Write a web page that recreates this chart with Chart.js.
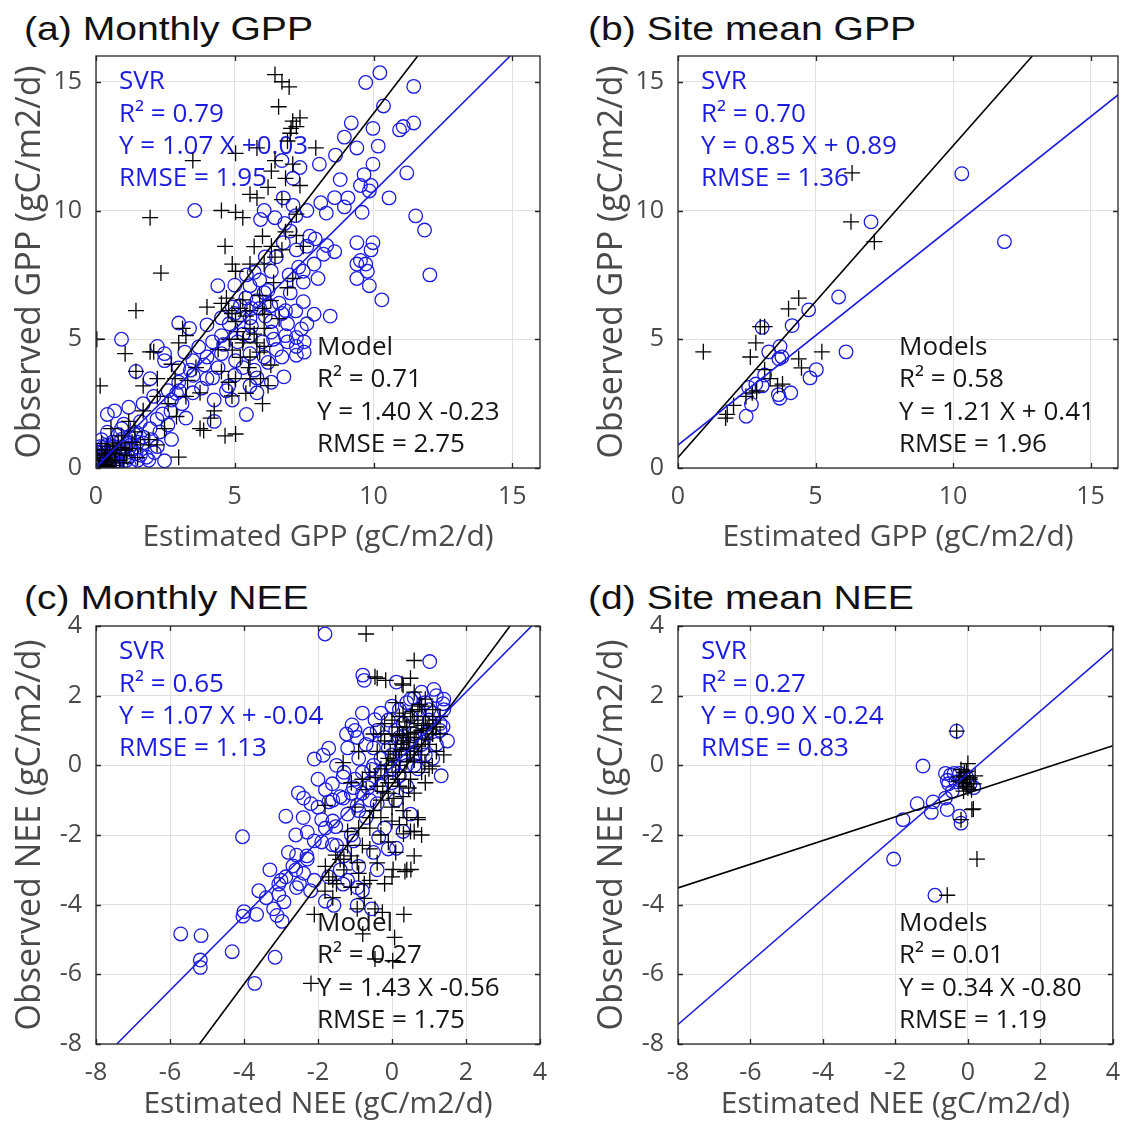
<!DOCTYPE html>
<html><head><meta charset="utf-8">
<script src="https://cdn.jsdelivr.net/npm/chart.js@4/dist/chart.umd.min.js"></script>
<style>
body{margin:0;width:1134px;height:1122px;background:#fff;position:relative;overflow:hidden}
canvas{position:absolute}
.ttl{position:absolute;font-family:"Liberation Sans",Arial,sans-serif;font-size:34px;line-height:34px;color:#111;transform:scaleX(1.15);transform-origin:0 0;white-space:pre}
</style></head><body>
<div class="ttl" style="left:24px;top:11px">(a) Monthly GPP</div>
<div class="ttl" style="left:588px;top:11px">(b) Site mean GPP</div>
<div class="ttl" style="left:24px;top:580px">(c) Monthly NEE</div>
<div class="ttl" style="left:588px;top:580px">(d) Site mean NEE</div>
<canvas id="ca" width="567" height="560" style="left:0;top:0"></canvas>
<canvas id="cb" width="567" height="560" style="left:567px;top:0"></canvas>
<canvas id="cc" width="567" height="552" style="left:0;top:570px"></canvas>
<canvas id="cd" width="567" height="552" style="left:567px;top:570px"></canvas>
<script>
// ---------------- data ----------------
const gppTicks = [0, 5, 10, 15];
const neeTicks = [-8, -6, -4, -2, 0, 2, 4];
const gppRange = [0, 16];
const neeRange = [-8, 4];

const gppXTitle = 'Estimated GPP (gC/m2/d)';
const gppYTitle = 'Observed GPP (gC/m2/d)';
const neeXTitle = 'Estimated NEE (gC/m2/d)';
const neeYTitle = 'Observed NEE (gC/m2/d)';

// SVR (blue circles) and process models (black crosses): [estimated, observed]
const monthlyGppSvr = [
[10.23,15.35],[9.72,14.97],[11.45,14.82],[10.36,14.06],[9.2,13.4],[11.07,13.26],[11.45,13.4],[10.94,13.13],[9.98,13.19],[8.95,12.85],
[10.17,12.5],[9.4,12.43],[8.63,12.15],[11.2,11.46],[9.98,11.8],[8.05,11.8],[9.66,11.39],[9.91,10.97],[9.53,10.97],[9.85,10.76],
[9.08,10.49],[10.56,10.49],[8.95,10.14],[9.59,9.93],[11.52,9.79],[11.84,9.24],[9.4,8.75],[9.98,8.75],[9.91,8.47],[8.31,8.64],
[9.53,8.06],[9.72,7.92],[9.4,7.92],[9.78,7.64],[12.03,7.5],[9.4,7.36],[9.85,7.08],[10.3,6.53],
[3.56,10.0],[6.06,10.0],[6.45,9.72],[5.93,9.65],[7.6,10.0],[6.75,10.49],[7.1,10.2],[7.1,11.25],[7.35,11.67],[6.7,11.94],
[6.75,8.75],[7.22,8.47],[7.6,8.61],[7.86,7.92],[7.47,7.64],[6.96,7.5],[6.32,7.64],[5.42,7.5],[4.39,7.08],[5.55,7.08],
[6.06,6.81],[7.47,7.22],[8.0,7.36],[7.47,6.46],[7.86,5.97],[8.44,5.9],[6.83,6.11],[6.32,5.69],[5.55,5.83],[4.91,6.25],
[4.52,5.83],[4.0,5.56],[3.37,5.42],[2.98,5.63],[4.52,5.14],[5.55,5.14],[6.32,5.28],[6.83,5.14],[7.22,5.07],[7.22,4.72],
[7.22,4.38],[6.7,4.31],[6.06,4.31],[5.55,4.44],[5.03,4.17],[4.52,4.44],[4.0,4.31],[3.49,4.17],[2.98,3.89],[2.47,4.44],
[2.21,4.72],[2.47,4.17],[0.92,5.0],[1.44,3.75],[1.95,3.47],[2.98,3.33],[4.0,3.47],[4.78,3.19],[5.55,3.19],[6.32,3.33],
[6.77,3.54],[5.8,2.92],[4.91,2.64],[4.26,2.64],[3.49,2.92],[2.72,2.64],[2.08,2.78],[1.7,2.5],[1.18,2.36],[0.67,2.22],
[0.41,2.08],[5.42,2.08],[4.26,1.81],[3.24,1.94],[2.59,1.67],[1.95,1.53],[1.44,1.39],[0.92,1.53],[0.41,1.39],[2.72,1.11],
[2.21,0.83],[1.7,0.97],[1.18,0.97],[0.67,0.83],[0.15,0.83],[2.47,0.28],[1.82,0.42],[1.18,0.42],[0.8,0.28],[0.41,0.14],
[0.03,0.07],[0.28,0.42],[0.92,1.11],[1.44,0.56],
[5.8,6.5],[6.2,6.9],[5.2,6.3],[4.8,5.6],[5.9,6.2],[6.6,6.4],[7.0,6.8],[5.3,5.2],[6.0,4.9],[6.5,4.6],
[5.7,3.8],[5.0,3.6],[4.4,3.9],[3.8,3.1],[3.1,2.5],[2.4,2.1],[1.6,1.8],[1.0,1.7],[6.9,5.6],[7.4,5.4],
[7.5,4.9],[6.1,5.9],[5.1,4.9],[3.7,4.7],[3.2,4.5],[2.6,3.0],[7.0,9.2],[6.5,8.2],[5.9,7.3],[8.3,9.9],[8.6,10.5],[8.8,11.2],
[5.0,6.0],[5.4,6.6],[5.6,6.2],[6.3,6.3],[6.7,6.0],[7.2,6.1],[5.6,5.5],[6.4,5.0],[6.9,4.9],[7.5,4.5],
[7.6,5.6],[6.2,4.1],[5.8,3.5],[5.3,3.9],[4.7,3.0],[4.2,3.5],[3.5,3.6],[3.0,3.0],[2.7,2.2],[2.2,1.9],
[5.0,7.1],[5.7,7.6],[6.1,8.2],[6.8,9.5],[7.2,9.8],[4.6,4.8],[4.2,4.9],[3.9,4.0],[3.4,3.8],[2.9,2.9],
[8.2,8.3],[7.9,8.9],[8.1,10.3],[7.7,9.0],[8.6,8.4],[7.3,7.8],
[0.1,0.2],[0.2,0.5],[0.3,0.1],[0.5,0.3],[0.6,0.6],[0.7,0.2],[0.9,0.5],[1.0,0.8],[1.1,0.3],[1.3,0.7],
[0.4,0.9],[0.2,1.1],[0.8,1.3],[1.2,1.2],[1.5,1.0],[0.5,0.05],[0.15,0.3],[0.35,0.6],[0.6,1.0],[1.6,0.5],
[2.0,1.1],[2.3,1.4],[1.9,0.3],[0.05,0.6],[0.25,0.8],[0.75,0.45],
[0.2,0.25],[0.45,0.45],[0.65,0.15],[0.85,0.65],[1.05,0.45],[1.25,0.9],[0.3,0.7],[0.55,0.8],[1.4,1.3],[1.7,1.2],
[0.1,0.45],[0.9,0.1],[1.2,0.1],[1.5,0.3],[2.1,0.6]
];
const monthlyGppModel = [
[6.45,15.28],[6.7,15.0],[6.96,14.8],[6.58,14.03],[7.09,13.47],[7.22,13.26],[7.03,13.19],[7.35,13.6],[5.8,12.43],[5.03,12.22],
[7.92,12.43],[3.49,11.94],[6.45,11.94],[7.09,11.8],[6.32,11.53],[6.83,11.25],[7.35,10.97],[5.55,10.63],[5.8,10.49],[6.7,10.42],
[4.52,10.0],[5.03,9.93],[5.29,9.72],[1.95,9.72],[7.22,9.86],[6.83,9.17],[7.22,9.03],[6.32,8.61],[6.7,8.47],[7.47,8.61],
[4.65,8.61],[4.91,7.92],[5.03,7.64],[5.55,7.92],[6.06,7.92],[6.45,8.19],[7.09,7.36],[2.34,7.57],[1.44,6.11],[4.0,6.25],
[4.52,6.39],[4.78,6.11],[5.29,6.53],[5.55,6.11],[5.03,5.69],[5.55,5.42],[6.06,5.97],[6.06,5.42],[5.8,4.86],[5.29,4.86],
[4.91,4.58],[5.55,4.31],[6.06,4.72],[3.12,5.42],[3.24,5.14],[2.98,4.86],[2.08,4.51],[1.95,4.51],[0.03,5.0],[1.05,4.44],
[2.72,4.03],[2.85,3.47],[1.44,3.75],[0.15,3.19],[4.52,3.75],[4.78,3.33],[5.03,3.47],[5.55,3.47],[5.93,3.47],[3.24,2.78],
[3.75,2.92],[4.26,2.22],[4.13,1.94],[3.75,1.53],[3.88,1.46],[4.65,1.25],[5.03,1.32],[2.98,0.42],[2.21,2.78],[1.7,2.22],
[1.18,1.81],[0.92,1.25],[0.41,0.83],[0.67,0.56],[0.15,0.28],[0.28,0.14],[0.54,0.28],[1.05,0.69],[0.8,0.97],[0.54,1.53],
[0.03,0.56],[2.47,1.53],[2.21,3.47],[1.7,3.19],
[6.9,12.7],[7.0,13.0],[6.2,10.9],[6.0,9.0],[5.7,8.6],[4.7,6.6],[4.9,6.0],[5.4,5.9],[5.7,5.2],[5.1,5.3],
[0.3,0.4],[0.5,0.6],[0.7,0.3],[0.9,0.8],[1.1,0.5],[0.2,0.7],[0.45,0.2],[1.3,1.0],[0.1,0.1],[0.6,0.9],[0.35,0.5],[1.0,0.2],[0.75,0.7],
[5.2,6.2],[5.9,6.7],[6.3,6.5],[6.6,5.8],[5.3,5.0],[5.9,4.5],[6.3,4.0],[5.2,4.3],[4.8,5.0],[4.4,4.6],
[6.4,7.2],[6.9,7.0],[6.0,6.2],[5.5,3.9],[6.2,3.2],[5.4,2.9],[4.9,2.8],[6.0,2.5],[3.3,3.4],[3.6,3.9],
[2.6,2.5],[2.9,2.0],[1.9,1.1],[1.5,0.4],[0.4,0.05],[0.6,0.1],[0.85,0.3],[1.2,0.75],[1.4,1.4],[0.2,0.95],[1.6,0.9],[2.2,0.9]
];
const siteGppSvr = [
[10.32,11.43],[7.02,9.56],[11.87,8.79],[5.84,6.64],[4.75,6.14],[4.15,5.53],[3.06,5.46],[3.71,4.72],[3.3,4.51],[3.78,4.31],
[3.67,4.24],[6.11,4.51],[5.03,3.82],[4.8,3.5],[3.15,3.61],[2.83,3.26],[3.06,3.19],[2.57,3.13],[4.1,2.92],[3.65,2.85],
[3.7,2.71],[2.67,2.47],[2.48,2.01]
];
const siteGppModel = [
[6.33,11.46],[6.29,9.56],[7.14,8.79],[4.39,6.6],[4.02,6.18],[2.99,5.49],[3.15,5.49],[0.92,4.51],[2.63,4.31],[2.83,4.86],
[5.23,4.51],[4.39,4.24],[4.49,3.89],[3.15,3.82],[3.35,3.47],[3.8,3.26],[3.62,3.19],[2.86,2.99],[2.7,2.92],[2.47,2.78],
[2.02,2.43],[1.79,2.08],[1.73,1.94]
];
const monthlyNeeSvr = [
[-1.81,3.77],[1.02,2.98],[-0.79,2.59],[-0.75,2.44],[0.12,2.39],[1.13,2.18],[0.6,1.93],[1.38,1.77],[-0.46,1.31],[-1.08,1.16],
[-1.23,0.9],[-0.94,0.8],[1.38,1.11],[-1.71,0.49],[-1.86,0.29],[-2.1,0.18],[1.33,-0.3],[-0.55,-0.12],[-1.32,-0.33],[-1.61,-0.53],
[-1.04,-0.64],[-0.65,-0.64],[-2.53,-0.79],[-2.39,-0.94],[-2.19,-1.1],[-1.71,-1.05],[-1.32,-0.94],[-0.94,-1.15],[-2.87,-1.46],[-1.9,-1.56],
[-1.52,-1.76],[-2.29,-1.92],[-2.1,-2.17],[-1.61,-2.28],[-1.04,-2.17],[-0.36,-2.07],[0.12,-2.38],[-4.04,-2.05],[-2.58,-2.58],[-2.29,-2.69],
[-2.68,-2.89],[-2.39,-3.1],[-2.87,-3.2],[-2.1,-3.3],[-1.71,-3.2],[-1.32,-3.41],[-0.94,-3.51],[-3.06,-3.41],[-2.58,-3.51],[-3.06,-3.71],
[-2.92,-3.92],[-3.2,-4.12],[-1.57,-4.02],[-0.94,-4.02],[-0.55,-4.12],[-3.66,-4.28],[-4.03,-4.33],[-2.97,-4.48],[-3.11,-4.31],[-5.71,-4.84],
[-5.16,-4.89],[-4.32,-5.35],[-5.18,-5.59],[-5.18,-5.8],[-3.16,-5.51],[-3.71,-6.26],
[-0.5,0.5],[-0.2,0.8],[0.1,1.0],[0.3,1.2],[0.5,1.4],[0.7,1.6],[0.9,1.8],[1.1,1.5],[1.3,1.2],[1.0,1.0],
[0.8,0.6],[0.6,0.3],[0.4,0.0],[0.2,-0.3],[0.0,-0.5],[-0.3,-0.2],[-0.6,-0.5],[-0.8,-0.8],[-1.0,-0.4],[-0.9,0.2],
[-0.7,0.6],[-0.4,1.0],[-0.1,1.3],[0.2,1.6],[0.5,1.9],[1.2,2.0],[1.4,1.6],[1.2,0.6],[0.9,0.3],[0.7,-0.1],
[-1.2,-1.4],[-1.4,-0.9],[-1.6,-1.6],[-1.1,-2.0],[-0.7,-1.5],[-0.4,-1.1],[-0.2,-1.8],[-0.5,-2.5],[-0.9,-2.9],[-1.3,-2.6],
[-1.9,-2.2],[-2.3,-2.6],[-2.0,-1.2],[-1.8,-0.7],[-1.5,0.0],[-1.2,0.5],[0.0,0.3],[0.3,0.6],[0.6,0.9],[1.0,1.3],
[-0.3,0.2],[0.1,-1.0],[0.4,-0.6],[-2.6,-3.0],[-2.2,-3.6],[-1.8,-3.9],[-1.4,-3.0],[-3.4,-3.8],[-3.0,-3.3],[-2.5,-3.4],
[-0.6,0.9],[-0.3,1.5],[0.0,1.7],[0.4,1.8],[0.8,2.1],[1.0,1.6],[1.3,1.0],[1.5,0.7],[0.9,0.9],[0.5,0.6],
[0.2,0.8],[-0.1,0.5],[-0.5,0.0],[-0.8,-0.2],[-1.1,-0.8],[-0.9,-1.3],[-0.6,-1.0],[-0.3,-0.6],[0.0,-0.1],[0.3,0.3],
[0.6,0.0],[1.1,0.2],[-1.3,-0.2],[-1.6,-1.0],[-1.8,-1.8],[-1.5,-2.3],[-1.2,-3.3],[-0.8,-3.6],[-0.4,-3.0],[-0.1,-2.4],
[0.3,-1.9],[0.5,-1.4],[-2.6,-2.0],[-2.8,-2.5],[-3.3,-3.0],[-3.6,-3.6],[-4.0,-4.2],[-2.4,-1.5],[-2.0,-0.4],[-1.0,1.0],[-0.8,1.5],[1.4,1.9]
];
const monthlyNeeModel = [
[-0.7,3.77],[0.6,3.01],[-0.46,2.54],[-0.17,2.44],[0.27,2.34],[-1.32,0.08],[0.89,0.08],[1.09,-0.02],[-1.81,-1.15],[0.7,-1.56],
[0.31,-1.97],[0.6,-1.9],[0.4,-1.5],[-1.52,-2.58],[-1.3,-2.7],[-0.94,-2.79],[-0.6,-2.4],[0.03,-2.99],[0.51,-2.99],[0.35,-3.05],
[-1.71,-3.2],[-1.5,-3.4],[-1.81,-3.61],[-0.75,-3.4],[-0.75,-3.82],[-0.94,-4.12],[-0.46,-4.12],[-0.26,-4.22],[0.32,-4.28],[-2.1,-4.28],
[-0.79,-4.84],[0.07,-4.94],[-0.46,-5.56],[0.02,-5.61],[-2.19,-6.26],
[0.0,0.0],[0.2,0.3],[0.4,0.5],[0.6,0.8],[0.8,1.0],[1.0,1.2],[0.3,0.9],[0.1,0.6],[-0.1,0.2],[-0.3,-0.1],
[0.5,1.4],[0.7,1.6],[0.9,1.9],[0.2,1.1],[-0.2,0.7],[-0.4,0.4],[0.4,0.1],[0.6,0.4],[0.8,0.6],[1.1,0.9],
[1.2,0.4],[1.0,-0.1],[0.8,-0.2],[0.5,-0.4],[0.2,-0.6],[-0.1,-0.8],[-0.3,-1.0],[-0.5,-1.3],[-0.7,-0.7],[-0.6,-1.8],
[-0.3,-2.0],[0.0,-1.6],[0.3,-1.3],[0.5,-1.9],[0.7,-1.5],[-0.8,-2.3],[-1.1,-2.6],[-1.3,-3.0],[-1.6,-3.3],[-0.9,-3.1],
[-0.4,-2.8],[0.1,-2.5],[0.4,-3.0],[-0.2,-3.4],[-1.2,-1.9],[-1.0,-1.2],[-0.8,-0.4],[0.3,1.5],[0.1,1.8],[-0.4,2.5],
[0.3,2.3],[0.6,2.1],[1.3,1.4],
[0.1,0.4],[0.3,0.7],[0.5,0.9],[0.7,1.2],[0.9,1.4],[1.1,1.6],[0.4,1.1],[0.6,1.3],[0.2,0.0],[-0.2,-0.3],
[-0.4,-0.6],[-0.6,-0.2],[0.0,0.9],[-0.2,1.2],[0.8,0.3],[1.0,0.6],[1.2,1.1],[0.9,-0.5],[0.6,-0.8],[0.3,-0.9],
[0.0,-1.2],[-0.3,-1.5],[-0.6,-1.5],[-0.9,-1.8],[-1.2,-2.3],[-1.4,-2.7],[-1.8,-2.9],[-1.6,-3.8],[-1.1,-3.5],[-0.6,-3.3],
[0.0,-3.2],[0.6,-2.6],[0.8,-2.0],[-0.1,-2.2],[0.2,-1.7],[-0.5,0.9],[-0.9,0.4],[-1.1,-0.5],[0.5,2.5],[0.8,1.7],[1.3,0.9],[1.4,0.3],
[0.05,0.15],[0.25,0.45],[0.45,0.65],[0.65,0.95],[0.85,1.15],[0.15,0.85],[0.35,1.25],[0.55,1.55],[0.75,1.75],[0.95,1.05],
[0.25,0.6],[0.5,0.3],[0.7,0.55],[0.9,0.75],[1.1,1.3],[-0.05,0.4],[-0.15,0.0],[0.1,-0.2],[0.35,-0.2],[0.6,0.15],
[0.4,0.8],[0.2,1.4],[0.0,1.3],[-0.3,0.9],[-0.1,-0.5],[0.15,-0.4],[0.45,-0.65],[-0.45,-0.35],[-0.25,-0.75],[0.05,-0.95]
];
const siteNeeSvr = [
[-0.31,0.98],[-1.24,-0.02],[-0.62,-0.23],[-0.48,-0.28],[-0.38,-0.23],[-0.23,-0.23],[-0.04,-0.33],[-0.57,-0.43],[-0.53,-0.53],[-0.33,-0.48],
[-0.14,-0.43],[0.06,-0.53],[0.16,-0.64],[-0.43,-0.74],[-0.62,-0.94],[-0.96,-1.05],[-1.4,-1.1],[-1.01,-1.35],[-0.57,-1.27],[-0.19,-1.66],
[-0.23,-1.46],[-1.79,-1.56],[-2.05,-2.69],[-0.91,-3.73]
];
const siteNeeModel = [
[-0.31,0.98],[-0.19,-0.12],[-0.1,-0.3],[-0.02,-0.53],[-0.12,-0.74],[0.16,-0.53],[0.11,-1.27],[-0.19,-1.56],[0.25,-2.69],[-0.57,-3.73],
[-0.04,-0.17],[-0.23,-0.33],[0.05,-0.4],[-0.15,-0.5],[0.0,-0.65],[0.15,-1.25],
[-0.1,-0.2],[0.05,-0.35],[-0.25,-0.45],[0.1,-0.7],[-0.05,-0.6],[0.2,-0.3],[0.0,0.05]
];

// regression fits [slope, intercept]
const svrFits   = [[1.07, 0.03], [0.85, 0.89], [1.07, -0.04], [0.90, -0.24]];
const modelFits = [[1.40, -0.23], [1.21, 0.41], [1.43, -0.56], [0.34, -0.80]];

const svrLabels = [
  ['SVR', 'R\u00B2 = 0.79', 'Y = 1.07 X +0.03', 'RMSE = 1.95'],
  ['SVR', 'R\u00B2 = 0.70', 'Y = 0.85 X + 0.89', 'RMSE = 1.36'],
  ['SVR', 'R\u00B2 = 0.65', 'Y = 1.07 X + -0.04', 'RMSE = 1.13'],
  ['SVR', 'R\u00B2 = 0.27', 'Y = 0.90 X -0.24', 'RMSE = 0.83']
];
const modelLabels = [
  ['Model', 'R\u00B2 = 0.71', 'Y = 1.40 X -0.23', 'RMSE = 2.75'],
  ['Models', 'R\u00B2 = 0.58', 'Y = 1.21 X + 0.41', 'RMSE = 1.96'],
  ['Model', 'R\u00B2 = 0.27', 'Y = 1.43 X -0.56', 'RMSE = 1.75'],
  ['Models', 'R\u00B2 = 0.01', 'Y = 0.34 X -0.80', 'RMSE = 1.19']
];

// ---------------- drawing ----------------
const BLUE = '#1c1ce0';
const INK = '#161616';
const GRAY = '#4a4a4a';
const FONT = '"Open Sans", "Noto Sans", sans-serif';

function fitSegment(fit, xr, yr) {
  const [a, b] = fit;
  const xa = (yr[0] - b) / a, xb = (yr[1] - b) / a;
  const x1 = Math.max(xr[0], Math.min(xa, xb));
  const x2 = Math.min(xr[1], Math.max(xa, xb));
  return [{x: x1, y: a * x1 + b}, {x: x2, y: a * x2 + b}];
}
const toPts = arr => arr.map(([x, y]) => ({x, y}));

const annotPlugin = {
  id: 'annot',
  beforeDatasetsDraw(chart, args, o) {
    const {ctx, chartArea: ca} = chart;
    ctx.save();
    ctx.font = '26px ' + FONT;
    ctx.textBaseline = 'middle';
    ctx.textAlign = 'left';
    ctx.fillStyle = BLUE;
    o.svr.forEach((t, i) => ctx.fillText(t, ca.left + 23, ca.top + 26 + i * 32.3));
    ctx.fillStyle = INK;
    o.model.forEach((t, i) => ctx.fillText(t, ca.left + 221, ca.bottom - 23 - (o.model.length - 1 - i) * 32.5));
    ctx.restore();
  }
};
const framePlugin = {
  id: 'frame',
  afterDraw(chart) {
    const {ctx, chartArea: ca, scales} = chart;
    ctx.save();
    ctx.strokeStyle = '#262626';
    ctx.lineWidth = 1.3;
    ctx.beginPath();
    scales.x.ticks.forEach(t => {
      const p = Math.round(scales.x.getPixelForValue(t.value)) + 0.5;
      ctx.moveTo(p, ca.bottom); ctx.lineTo(p, ca.bottom - 5);
      ctx.moveTo(p, ca.top); ctx.lineTo(p, ca.top + 5);
    });
    scales.y.ticks.forEach(t => {
      const p = Math.round(scales.y.getPixelForValue(t.value)) + 0.5;
      ctx.moveTo(ca.left, p); ctx.lineTo(ca.left + 5, p);
      ctx.moveTo(ca.right, p); ctx.lineTo(ca.right - 5, p);
    });
    ctx.stroke();
    ctx.strokeRect(ca.left, ca.top, ca.right - ca.left, ca.bottom - ca.top);
    ctx.restore();
  }
};

function axis(range, ticks, title, titleSize, fitFn, titlePad) {
  return {
    type: 'linear', min: range[0], max: range[1],
    afterBuildTicks: s => { s.ticks = ticks.map(v => ({value: v})); },
    afterFit: fitFn,
    grid: {color: '#e0e0e0', lineWidth: 1, drawTicks: false},
    border: {display: false},
    ticks: {padding: 14, color: GRAY, font: {family: FONT, size: 25}, callback: v => String(v)},
    title: {display: true, text: title, color: GRAY, font: {family: FONT, size: titleSize, lineHeight: 1.2}, padding: titlePad}
  };
}

function makeChart(id, p) {
  return new Chart(document.getElementById(id), {
    type: 'scatter',
    data: {datasets: [
      {type: 'line', data: fitSegment(p.svrFit, p.range, p.range), borderColor: BLUE, borderWidth: 1.6, pointRadius: 0, fill: false, order: 0},
      {type: 'line', data: fitSegment(p.modelFit, p.range, p.range), borderColor: '#000', borderWidth: 1.6, pointRadius: 0, fill: false, order: 0},
      {data: toPts(p.model), pointStyle: 'cross', pointRadius: 8, borderColor: '#000', borderWidth: 1.3, order: 1},
      {data: toPts(p.svr), pointStyle: 'circle', pointRadius: 6.8, borderColor: BLUE, backgroundColor: 'rgba(0,0,0,0)', borderWidth: 1.3, order: 2}
    ]},
    options: {
      responsive: false, animation: false, events: [],
      layout: {padding: p.pad},
      plugins: {legend: {display: false}, tooltip: {enabled: false},
        annot: {svr: p.svrText, model: p.modelText}},
      scales: {
        x: axis(p.range, p.ticks, p.xTitle, 30, s => { s.height = p.xh; }, {top: 0, bottom: p.xtPad}),
        y: axis(p.range, p.ticks, p.yTitle, 34, s => { s.width = 96; }, {top: 10, bottom: 0})
      }
    },
    plugins: [annotPlugin, framePlugin]
  });
}

function drawAll() {
  makeChart('ca', {range: gppRange, ticks: gppTicks, xTitle: gppXTitle, yTitle: gppYTitle, svr: monthlyGppSvr, model: monthlyGppModel,
    svrFit: svrFits[0], modelFit: modelFits[0], svrText: svrLabels[0], modelText: modelLabels[0],
    pad: {top: 56, right: 27, left: 0, bottom: 0}, xh: 92, xtPad: 5});
  makeChart('cb', {range: gppRange, ticks: gppTicks, xTitle: gppXTitle, yTitle: gppYTitle, svr: siteGppSvr, model: siteGppModel,
    svrFit: svrFits[1], modelFit: modelFits[1], svrText: svrLabels[1], modelText: modelLabels[1],
    pad: {top: 56, right: 16, left: 15, bottom: 0}, xh: 92, xtPad: 5});
  makeChart('cc', {range: neeRange, ticks: neeTicks, xTitle: neeXTitle, yTitle: neeYTitle, svr: monthlyNeeSvr, model: monthlyNeeModel,
    svrFit: svrFits[2], modelFit: modelFits[2], svrText: svrLabels[2], modelText: modelLabels[2],
    pad: {top: 56, right: 27, left: 0, bottom: 0}, xh: 78, xtPad: 0});
  makeChart('cd', {range: neeRange, ticks: neeTicks, xTitle: neeXTitle, yTitle: neeYTitle, svr: siteNeeSvr, model: siteNeeModel,
    svrFit: svrFits[3], modelFit: modelFits[3], svrText: svrLabels[3], modelText: modelLabels[3],
    pad: {top: 56, right: 16, left: 15, bottom: 0}, xh: 78, xtPad: 0});
}

const fontLoads = ['25px "Open Sans"', '26px "Open Sans"', '30px "Open Sans"', '34px "Open Sans"'].map(f => document.fonts.load(f));
Promise.all(fontLoads).then(drawAll, drawAll);
</script>
</body></html>
